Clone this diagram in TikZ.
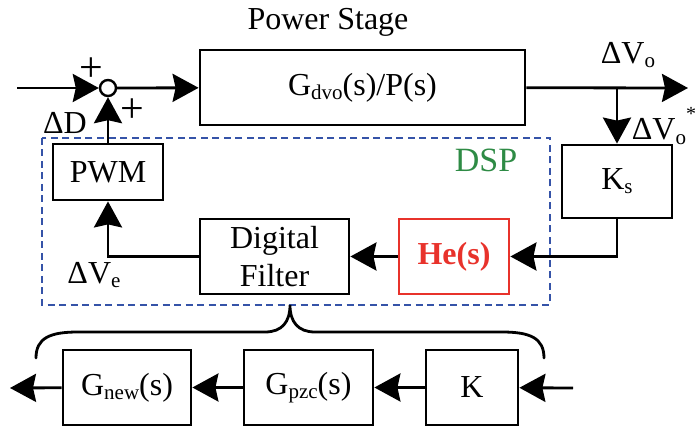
\documentclass[tikz,border=0pt]{standalone}
\usepackage{fontspec}
\setmainfont{Liberation Serif}
\usepackage{tikz}
\usetikzlibrary{arrows.meta,calc}
\definecolor{dspblau}{HTML}{3553A8}
\definecolor{dspgruen}{HTML}{2E8B45}
\definecolor{herot}{HTML}{E8322B}
\newcommand{\tief}[1]{\raisebox{-0.28ex}{\fontsize{21}{21}\selectfont #1}}
\tikzset{
  pfeil/.style={-{Stealth[length=26pt,width=28pt,inset=3pt]},black,line width=2.8pt},
  block/.style={draw,black,line width=2.8pt,inner sep=0pt},
  dspbox/.style={draw=dspblau,line width=2.6pt,dash pattern=on 7pt off 4.5pt},
  klammer/.style={black,line width=2.8pt,line cap=round},
}

\begin{document}
\begin{tikzpicture}[x=1pt,y=-1pt,font=\fontsize{32}{38}\selectfont]
  \useasboundingbox (0,0) rectangle (697,427);
  % Leistungsteil
  \node (titel) at (328,22) {Power Stage};
  \node[block,minimum width=325pt,minimum height=75pt] (power) at (362.5,87.5) {G\tief{dvo}(s)/P(s)};
  \node[draw,circle,line width=2.4pt,minimum size=16pt,inner sep=0pt] (sum) at (108,88) {};
  \coordinate (ein) at (17,88);
  \coordinate (aus) at (688,88);
  \coordinate (abzw) at (617,88);
  \node[block,minimum width=110pt,minimum height=73pt] (ks) at (617,181.5) {K\tief{s}};
  % DSP
  \draw[dspbox] (42,138) rectangle (550,305);
  \node[text=dspgruen,font=\fontsize{34}{38}\selectfont] (dsp) at (486,160) {DSP};
  \node[block,minimum width=110pt,minimum height=56pt] (pwm) at (108,172) {PWM};
  \node[block,draw=herot,text=herot,font=\fontsize{32}{38}\selectfont\bfseries,minimum width=110pt,minimum height=75pt] (he) at (454,256.5) {He(s)};
  \node[block,align=center,minimum width=149pt,minimum height=75pt] (filter) at (274.5,256.5) {Digital\\Filter};
  \draw[pfeil] (ein) -- (sum);
  \draw[pfeil] (sum) -- (power);
  \draw[pfeil] (power) -- (aus);
  \draw[pfeil] (abzw) -- (ks);
  \draw[pfeil] (ks.south) |- (he.east);
  \draw[pfeil] (he) -- (filter);
  \draw[pfeil] (filter.west) -| (pwm.south);
  \draw[pfeil] (pwm) -- (sum);
  % Beschriftungen
  \node[font=\fontsize{42}{42}\selectfont] (plus1) at (91,70) {+};
  \node[font=\fontsize{42}{42}\selectfont] (plus2) at (132,111) {+};
  \node (dd) at (65,123) {ΔD};
  \node (dvo) at (628,55) {ΔV\tief{o}};
  \node (dvos) at (664,126) {ΔV\tief{o}\raisebox{1.3ex}{\fontsize{20}{20}\selectfont *}};
  \node (dve) at (94,275) {ΔV\tief{e}};
  % Klammer
  \draw[klammer] (36,358) .. controls (36,338) and (50,332) .. (78,332) -- (265,332)
    .. controls (282,332) and (290,322) .. (290,305)
    .. controls (290,322) and (298,332) .. (315,332) -- (502,332)
    .. controls (530,332) and (544,338) .. (544,358);
  % Filterkette
  \node[block,minimum width=128pt,minimum height=75pt] (gnew) at (127,387.5) {G\tief{new}(s)};
  \node[block,minimum width=129pt,minimum height=75pt] (gpzc) at (308.5,387.5) {G\tief{pzc}(s)};
  \node[block,minimum width=92pt,minimum height=75pt] (k) at (472,387.5) {K};
  \coordinate (ein2) at (573,388);
  \coordinate (aus2) at (10,388);
  \draw[pfeil] (ein2) -- (k);
  \draw[pfeil] (k) -- (gpzc);
  \draw[pfeil] (gpzc) -- (gnew);
  \draw[pfeil] (gnew) -- (aus2);
\end{tikzpicture}
\end{document}
